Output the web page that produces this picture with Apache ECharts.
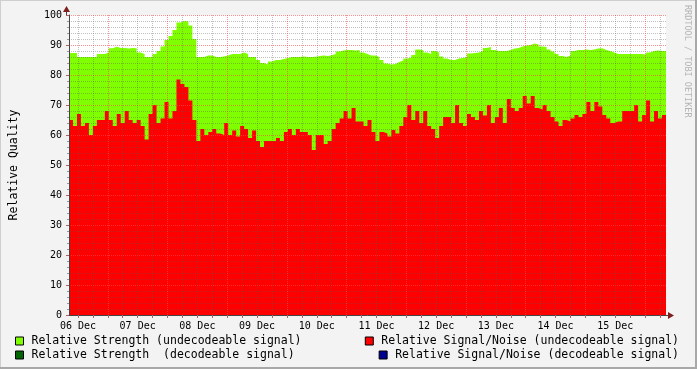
<!DOCTYPE html>
<html>
<head>
<meta charset="utf-8">
<script src="https://cdn.jsdelivr.net/npm/echarts@6/dist/echarts.min.js"></script>
<style>
html,body{margin:0;padding:0;background:#f3f3f3;}
#c{width:697px;height:369px;}
</style>
</head>
<body>
<div id="c"></div>
<script>
// ---- data (hours since 06 Dec 00:00; one sample every 1.6 h starting 08:24) ----
var startHour = 8.4;
var stepHours = 1.6;
var dayLabels = ['06 Dec','07 Dec','08 Dec','09 Dec','10 Dec','11 Dec','12 Dec','13 Dec','14 Dec','15 Dec'];
var yTicks = [0,10,20,30,40,50,60,70,80,90,100];

var strengthUndecodeable = [
 87.3,87.3,86,86,86,86,86,87,87,87.5,
 88.9,89.4,89,89,88.8,89,88.9,87.5,87,86,
 86,87,88,89.5,91.7,
 93,95,97.5,98,97.8,96.5,92,86,86,86.5,
 86.5,86,86,86.2,86.5,87,87,87,87.5,87,
 86,86,85,84,83.5,
 84.5,85,85,85.3,85.7,86,86,86,86.2,86,
 86,86.1,86.3,86.5,86.3,86.6,87,87.8,88.2,88.3,
 88.3,88.2,88.3,87.5,87,
 86.5,86.5,86,85,83.8,83.5,83.7,84.3,84.8,85.5,
 85.8,86.7,88.5,88.3,87.5,87,88,87.5,86.2,85.5,
 85,85,85.5,85.7,86,
 87.2,87.3,87.5,88,89,89.3,88.3,88,88,88,
 88.3,88.8,89,89.5,89.8,90,90.5,90.2,89.5,89.3,
 88.5,87.8,87,86.3,86,
 86.5,88,88.3,88.3,88.5,88.3,88.5,88.8,88.9,88.3,
 88,87.5,87,87,87,87,87,87,87,86.8,
 87.5,88,88.2,88,88
];
var signalNoiseUndecodeable = [
 65,63,67,63,64,60,63,65,65,68,
 65,63,67,64,68,65,64,65,63,58.5,
 67,70,64,65.5,71,
 65.5,68,78.5,77,76,71.5,65,58,62,60,
 61,62,60.5,60,64,60,61.5,59.5,63,62,
 59,61.5,58,56,58,
 58,58,59,58,61,62,60,62,61,61,
 60,55,60,60,57,58,62,64,65.5,68,
 65.5,69,64.5,64.5,63,
 65,61,58,61,60.5,59.5,61.7,60.5,63,66,
 70,65,68,64,68,63,62,59,63,66,
 66,64,70,64,63,
 67,66,65,68,66.5,70,64,66,69,64,
 72,69,68,69,73,70.5,73,69,68.5,70,
 68,66,64.5,63,65,
 64.5,65.5,66.7,66,67,71,68,71,69.5,66.7,
 65.5,64,64.5,64.5,68,68,68,70,64.5,66.7,
 71.5,64.5,68,65.5,66.7
];
var strengthDecodeable = [];
var signalNoiseDecodeable = [];

// ---- build series data ----
function toPoints(vals){
  var pts = [];
  for (var i = 0; i < vals.length; i++) pts.push([startHour + stepHours*i, vals[i]]);
  if (vals.length) pts.push([startHour + stepHours*vals.length, vals[vals.length-1]]);
  return pts;
}
var endHour = startHour + stepHours*strengthUndecodeable.length;

var labelHours = dayLabels.map(function(d,i){ return 12 + 24*i; });
var tickHours = [];
for (var h = 12; h < endHour; h += 6) tickHours.push(h);

var MINOR_C = 'rgba(90,90,90,0.38)';
var MAJOR_C = 'rgba(255,70,70,0.6)';
// x grid colours cycle: 12h, 18h, 24h(major), 30h, ...
var xGridColors = tickHours.slice(0,4).map(function(h){ return h % 24 === 0 ? MAJOR_C : MINOR_C; });

var FONT = '"DejaVu Sans Mono", monospace';
var names = ['Relative Strength (undecodeable signal)',
             'Relative Strength  (decodeable signal)',
             'Relative Signal/Noise (undecodeable signal)',
             'Relative Signal/Noise (decodeable signal)'];
var colors = ['#80ff00','#006400','#ff0000','#000090'];

function legendAt(name, pos){
  var l = {
    data:[name], orient:'horizontal', padding:0, top:pos.top,
    icon:'rect', itemWidth:8, itemHeight:8,
    itemStyle:{borderColor:'#000', borderWidth:1},
    textStyle:{fontFamily:FONT, fontSize:11.5, color:'#000', padding:[0,0,0,3], lineHeight:14},
    selectedMode:false
  };
  if (pos.left != null) l.left = pos.left; else l.right = pos.right;
  return l;
}

function areaSeries(name, color, vals, z){
  return {
    name:name, type:'line', step:'end', data:toPoints(vals),
    showSymbol:false, symbol:'none', z:z,
    lineStyle:{width:0, color:color}, itemStyle:{color:color},
    areaStyle:{color:color, opacity:1}, animation:false, silent:true
  };
}

var chart = echarts.init(document.getElementById('c'), null, {renderer:'canvas'});
chart.setOption({
  backgroundColor:'#f3f3f3',
  animation:false,
  grid:{left:66, right:31, top:15, bottom:54, show:true, backgroundColor:'#ffffff', borderWidth:0},
  legend:[
    legendAt(names[0], {left:15, top:334}),
    legendAt(names[1], {left:15, top:348}),
    legendAt(names[2], {right:18, top:334}),
    legendAt(names[3], {right:18, top:348})
  ],
  xAxis:{
    type:'value', min:startHour, max:endHour, z:10,
    axisLine:{show:true, lineStyle:{color:'#444', width:1}},
    axisTick:{show:true, customValues:tickHours, length:3, lineStyle:{color:'#b06060'}},
    axisLabel:{
      customValues:labelHours, fontFamily:FONT, fontSize:10, color:'#000', margin:6,
      formatter:function(val){ var i = Math.round((val-12)/24); return dayLabels[i] || ''; }
    },
    splitLine:{show:true, lineStyle:{color:xGridColors, width:1, type:[1,1]}}
  },
  yAxis:{
    type:'value', min:0, max:100, interval:10, z:10,
    name:'Relative Quality', nameLocation:'middle', nameGap:49, nameRotate:90,
    nameTextStyle:{fontFamily:FONT, fontSize:11.5, color:'#000'},
    axisLine:{show:true, lineStyle:{color:'#444', width:1}},
    axisTick:{show:true, length:3, lineStyle:{color:'#b06060'}},
    minorTick:{show:true, splitNumber:5, length:2, lineStyle:{color:'#999'}},
    axisLabel:{fontFamily:FONT, fontSize:10, color:'#000', margin:7,
      formatter:function(val){ return yTicks.indexOf(val) >= 0 ? String(val) : ''; }},
    splitLine:{show:true, lineStyle:{color:MAJOR_C, width:1, type:[1,1]}},
    minorSplitLine:{show:true, lineStyle:{color:MINOR_C, width:1, type:[1,1]}}
  },
  series:[
    areaSeries(names[0], colors[0], strengthUndecodeable, 2),
    areaSeries(names[1], colors[1], strengthDecodeable, 3),
    areaSeries(names[2], colors[2], signalNoiseUndecodeable, 4),
    areaSeries(names[3], colors[3], signalNoiseDecodeable, 5)
  ],
  graphic:[
    {type:'rect', shape:{x:0,y:0,width:697,height:1}, style:{fill:'#cfcfcf'}, silent:true},
    {type:'rect', shape:{x:0,y:0,width:1,height:369}, style:{fill:'#cfcfcf'}, silent:true},
    {type:'rect', shape:{x:695,y:0,width:2,height:369}, style:{fill:'#a8a8a8'}, silent:true},
    {type:'rect', shape:{x:0,y:367,width:697,height:2}, style:{fill:'#a8a8a8'}, silent:true},
    {type:'line', shape:{x1:66.5,y1:15,x2:66.5,y2:9}, style:{stroke:'#444', lineWidth:1}, silent:true},
    {type:'polygon', shape:{points:[[63,12],[70,12],[66.5,6]]}, style:{fill:'#7f1f1f'}, silent:true},
    {type:'line', shape:{x1:666,y1:315.5,x2:671,y2:315.5}, style:{stroke:'#444', lineWidth:1}, silent:true},
    {type:'polygon', shape:{points:[[668,312],[668,319],[674,315.5]]}, style:{fill:'#7f1f1f'}, silent:true},
    {type:'text', x:687, y:5, rotation:-Math.PI/2,
     style:{text:'RRDTOOL / TOBI OETIKER', fontFamily:FONT, fontSize:8.5, fill:'#b4b4b4', align:'left', verticalAlign:'middle'}, silent:true}
  ]
});
</script>
</body>
</html>
